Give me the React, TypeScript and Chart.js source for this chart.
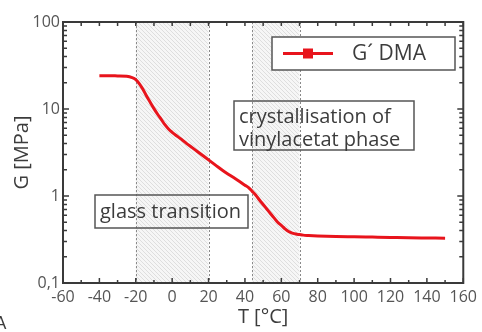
import React, { useEffect, useRef } from 'react';
import { Chart, registerables } from 'chart.js';

Chart.register(...registerables);

const temperatures = [
  -40, -35, -30, -25, -22, -20, -18, -16, -14, -12, -10, -8, -6, -4, -2, 0, 2, 5, 8, 11, 14, 17, 20,
  24, 28, 32, 36, 40, 42, 44, 46, 48, 50, 52, 54, 56, 58, 60, 62, 64, 66, 68, 70, 72, 75, 80, 90,
  100, 110, 120, 130, 140, 150,
];
const modulus = [
  24.1, 24.1, 24.0, 23.8, 23.0, 21.8, 19.5, 16.8, 14.0, 11.9, 10.1, 8.7, 7.6, 6.6, 5.9, 5.4, 5.0,
  4.5, 4.0, 3.6, 3.23, 2.9, 2.6, 2.25, 1.95, 1.72, 1.52, 1.33, 1.25, 1.13, 1.02, 0.9, 0.8, 0.71,
  0.63, 0.56, 0.5, 0.46, 0.42, 0.39, 0.375, 0.365, 0.36, 0.355, 0.352, 0.348, 0.343, 0.34, 0.337,
  0.334, 0.331, 0.329, 0.327,
];
const xTickValues = [-60, -40, -20, 0, 20, 40, 60, 80, 100, 120, 140, 160];
const xMinorValues = [-50, -30, -10, 10, 30, 50, 70, 90, 110, 130, 150];
const yTickValues = [0.1, 1, 10, 100];
const yTickLabels = ['0,1', '1', '10', '100'];
const shadedRegions = [
  [-20, 20],
  [44, 70],
];
const seriesLabel = 'G´ DMA';
const xTitle = 'T [°C]';
const yTitle = 'G [MPa]';
const glassLabel = ['glass transition'];
const crystalLabel = ['crystallisation of', 'vinylacetat phase'];
const panelLetter = 'A';

const FONT = '"Open Sans", "DejaVu Sans", sans-serif';
const RED = '#e8141c';
const AXIS = '#3a3a3a';
const TEXT = '#3c3c3c';

function makeHatch(ctx: CanvasRenderingContext2D) {
  const c = document.createElement('canvas');
  const s = 4;
  c.width = s;
  c.height = s;
  const g = c.getContext('2d')!;
  g.fillStyle = '#f6f6f6';
  g.fillRect(0, 0, s, s);
  g.strokeStyle = '#dedede';
  g.lineWidth = 1;
  for (let k = -1; k <= 1; k++) {
    g.beginPath();
    g.moveTo(k * s, 0);
    g.lineTo(k * s + s, s);
    g.stroke();
  }
  return ctx.createPattern(c, 'repeat')!;
}

const decorPlugin = {
  id: 'decor',
  beforeDatasetsDraw(chart: any) {
    const { ctx, chartArea } = chart;
    const xs = chart.scales.x;
    const { top, bottom } = chartArea;
    ctx.save();
    const pat = makeHatch(ctx);
    shadedRegions.forEach(([a, b]) => {
      const x1 = xs.getPixelForValue(a);
      const x2 = xs.getPixelForValue(b);
      ctx.fillStyle = pat;
      ctx.fillRect(x1, top, x2 - x1, bottom - top);
    });
    ctx.strokeStyle = '#8a8a8a';
    ctx.lineWidth = 1;
    ctx.setLineDash([2, 2]);
    shadedRegions.forEach(([a, b]) => {
      [a, b].forEach((v) => {
        const x = Math.round(xs.getPixelForValue(v)) + 0.5;
        ctx.beginPath();
        ctx.moveTo(x, top);
        ctx.lineTo(x, bottom);
        ctx.stroke();
      });
    });
    ctx.setLineDash([]);

    // annotation boxes (transparent)
    const drawBox = (x1: number, y1: number, x2: number, y2: number, lines: string[], tx: number, ty: number, lh: number) => {
      ctx.strokeStyle = '#555';
      ctx.lineWidth = 1.5;
      ctx.strokeRect(x1, y1, x2 - x1, y2 - y1);
      ctx.fillStyle = TEXT;
      ctx.font = `20px ${FONT}`;
      ctx.textAlign = 'left';
      ctx.textBaseline = 'alphabetic';
      lines.forEach((l, i) => ctx.fillText(l, tx, ty + i * lh));
    };
    const L = chartArea.left;
    const T = chartArea.top;
    drawBox(L + 32, T + 173, L + 185, T + 206, glassLabel, L + 37, T + 196, 22);
    drawBox(L + 171, T + 79, L + 351, T + 128, crystalLabel, L + 176, T + 101, 23);
    ctx.restore();
  },
  afterDraw(chart: any) {
    const { ctx, chartArea } = chart;
    const xs = chart.scales.x;
    const ys = chart.scales.y;
    const { left, right, top, bottom } = chartArea;
    ctx.save();
    // frame
    ctx.strokeStyle = AXIS;
    ctx.lineWidth = 2;
    ctx.strokeRect(left, top, right - left, bottom - top);
    ctx.lineWidth = 1.5;
    // x ticks
    xTickValues.forEach((v) => {
      const x = xs.getPixelForValue(v);
      ctx.beginPath();
      ctx.moveTo(x, bottom);
      ctx.lineTo(x, bottom - 5);
      ctx.moveTo(x, top);
      ctx.lineTo(x, top + 4);
      ctx.stroke();
    });
    xMinorValues.forEach((v) => {
      const x = xs.getPixelForValue(v);
      ctx.beginPath();
      ctx.moveTo(x, bottom);
      ctx.lineTo(x, bottom - 3);
      ctx.moveTo(x, top);
      ctx.lineTo(x, top + 4);
      ctx.stroke();
    });
    // y ticks
    yTickValues.forEach((d, i) => {
      const y = ys.getPixelForValue(d);
      ctx.beginPath();
      ctx.moveTo(left, y);
      ctx.lineTo(left + 6, y);
      ctx.moveTo(right, y);
      ctx.lineTo(right - 6, y);
      ctx.stroke();
      if (i < yTickValues.length - 1) {
        for (let m = 2; m <= 9; m++) {
          const yy = ys.getPixelForValue(d * m);
          ctx.beginPath();
          ctx.moveTo(left, yy);
          ctx.lineTo(left + 4, yy);
          ctx.moveTo(right, yy);
          ctx.lineTo(right - 4, yy);
          ctx.stroke();
        }
      }
    });

    // legend
    const lx1 = left + 209, ly1 = top + 15, lx2 = left + 392, ly2 = top + 48;
    ctx.fillStyle = '#fff';
    ctx.fillRect(lx1, ly1, lx2 - lx1, ly2 - ly1);
    ctx.strokeStyle = '#555';
    ctx.lineWidth = 1.5;
    ctx.strokeRect(lx1, ly1, lx2 - lx1, ly2 - ly1);
    const cy = (ly1 + ly2) / 2;
    ctx.strokeStyle = RED;
    ctx.lineWidth = 3;
    ctx.beginPath();
    ctx.moveTo(lx1 + 11, cy);
    ctx.lineTo(lx1 + 61, cy);
    ctx.stroke();
    ctx.fillStyle = RED;
    ctx.fillRect(lx1 + 31, cy - 5, 10, 10);
    ctx.fillStyle = TEXT;
    ctx.font = `21px ${FONT}`;
    ctx.textAlign = 'left';
    ctx.textBaseline = 'middle';
    ctx.fillText(seriesLabel, lx1 + 80, cy + 1);

    // axis titles
    ctx.font = `20px ${FONT}`;
    ctx.textAlign = 'center';
    ctx.textBaseline = 'middle';
    ctx.fillText(xTitle, (left + right) / 2, bottom + 34);
    ctx.save();
    ctx.translate(22, (top + bottom) / 2);
    ctx.rotate(-Math.PI / 2);
    ctx.fillText(yTitle, 0, 0);
    ctx.restore();
    // panel letter
    ctx.font = `18px ${FONT}`;
    ctx.textAlign = 'left';
    ctx.textBaseline = 'alphabetic';
    ctx.fillText(panelLetter, -5, 329);
    ctx.restore();
  },
};

export default function App() {
  const ref = useRef<HTMLCanvasElement>(null);
  useEffect(() => {
    document.body.style.margin = '0';
    const canvas = ref.current!;
    const chart = new Chart(canvas, {
      type: 'line',
      data: {
        datasets: [
          {
            label: seriesLabel,
            data: temperatures.map((t, i) => ({ x: t, y: modulus[i] })),
            borderColor: RED,
            backgroundColor: RED,
            borderWidth: 3,
            pointRadius: 0,
            cubicInterpolationMode: 'monotone',
          },
        ],
      },
      options: {
        responsive: false,
        animation: false,
        layout: { padding: { left: 0, top: 22, right: 12, bottom: 0 } },
        plugins: { legend: { display: false }, tooltip: { enabled: false } },
        scales: {
          x: {
            type: 'linear',
            min: -60,
            max: 160,
            afterFit: (s: any) => {
              s.height = 49;
            },
            afterBuildTicks: (s: any) => {
              s.ticks = xTickValues.map((v) => ({ value: v }));
            },
            grid: { display: false, drawTicks: false },
            border: { display: false },
            ticks: {
              autoSkip: false,
              maxRotation: 0,
              padding: 5,
              color: '#555',
              font: { family: FONT, size: 16 },
            },
          },
          y: {
            type: 'logarithmic',
            min: 0.1,
            max: 100,
            afterFit: (s: any) => {
              s.width = 63;
            },
            afterBuildTicks: (s: any) => {
              s.ticks = yTickValues.map((v) => ({ value: v }));
            },
            grid: { display: false, drawTicks: false },
            border: { display: false },
            ticks: {
              autoSkip: false,
              padding: 3,
              color: '#555',
              font: { family: FONT, size: 16 },
              callback: (v: any) => yTickLabels[yTickValues.indexOf(Number(v))] ?? '',
            },
          },
        },
      },
      plugins: [decorPlugin],
    });
    return () => chart.destroy();
  }, []);
  return (
    <div style={{ width: 482, height: 332 }}>
      <canvas ref={ref} width={482} height={332} style={{ width: 482, height: 332, display: 'block' }} />
    </div>
  );
}
